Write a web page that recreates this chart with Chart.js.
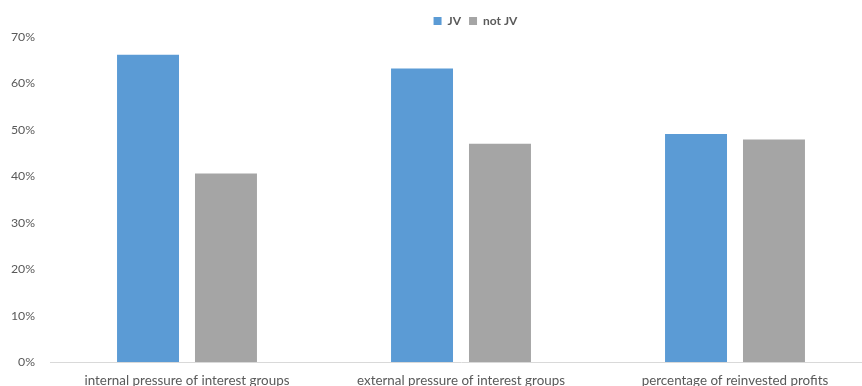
<!DOCTYPE html>
<html>
<head>
<meta charset="utf-8">
<script src="https://cdn.jsdelivr.net/npm/chart.js@4/dist/chart.umd.min.js"></script>
<style>
  html, body { margin: 0; padding: 0; background: #fff; }
  #wrap { width: 862px; height: 386px; overflow: hidden; position: relative; }
  #chart { position: absolute; left: 0; top: 0; }
</style>
</head>
<body>
<div id="wrap"><canvas id="chart" width="951" height="392"></canvas></div>
<script>
// data (percent)
const categories = ["internal pressure of interest groups", "external pressure of interest groups", "percentage of reinvested profits"];
const jvValues = [66.2, 63.2, 49.1];
const notJvValues = [40.6, 47.0, 47.9];
const seriesNames = ["JV", "not JV"];
const yTicks = [0, 10, 20, 30, 40, 50, 60, 70];

const textColor = "#595959";
const fontFamily = "Lato, 'Open Sans', sans-serif";

window.addEventListener("load", () => {
  const ctx = document.getElementById("chart");
  new Chart(ctx, {
    type: "bar",
    data: {
      labels: categories,
      datasets: [
        { label: seriesNames[0], data: jvValues, backgroundColor: "#5B9BD5" },
        { label: seriesNames[1], data: notJvValues, backgroundColor: "#A5A5A5" }
      ]
    },
    options: {
      responsive: false,
      animation: false,
      categoryPercentage: 0.569,
      barPercentage: 0.795,
      layout: { padding: { top: 7, left: 0, right: 0, bottom: 0 } },
      plugins: {
        tooltip: { enabled: false },
        legend: {
          position: "top",
          labels: {
            boxWidth: 8,
            boxHeight: 8,
            padding: 8,
            color: textColor,
            font: { family: fontFamily, size: 12, weight: "bold" }
          }
        }
      },
      scales: {
        x: {
          grid: { display: false, drawTicks: false },
          border: { display: true, color: "#D9D9D9", width: 1 },
          ticks: { color: textColor, padding: 11, maxRotation: 0, font: { family: fontFamily, size: 13.4 } },
          afterFit: (s) => { s.height = 30; }
        },
        y: {
          min: 0,
          max: yTicks[yTicks.length - 1],
          afterBuildTicks: (s) => { s.ticks = yTicks.map(v => ({ value: v })); },
          grid: { display: false, drawTicks: false },
          border: { display: false },
          ticks: {
            color: textColor,
            padding: 15,
            font: { family: fontFamily, size: 12.3 },
            callback: (v) => v + "%"
          },
          afterFit: (s) => { s.width = 50; }
        },
        // empty space on the right, the original chart runs past the crop
        y2: {
          position: "right",
          grid: { display: false },
          border: { display: false },
          ticks: { display: false },
          afterFit: (s) => { s.width = 79; }
        }
      }
    }
  });
});
</script>
</body>
</html>
